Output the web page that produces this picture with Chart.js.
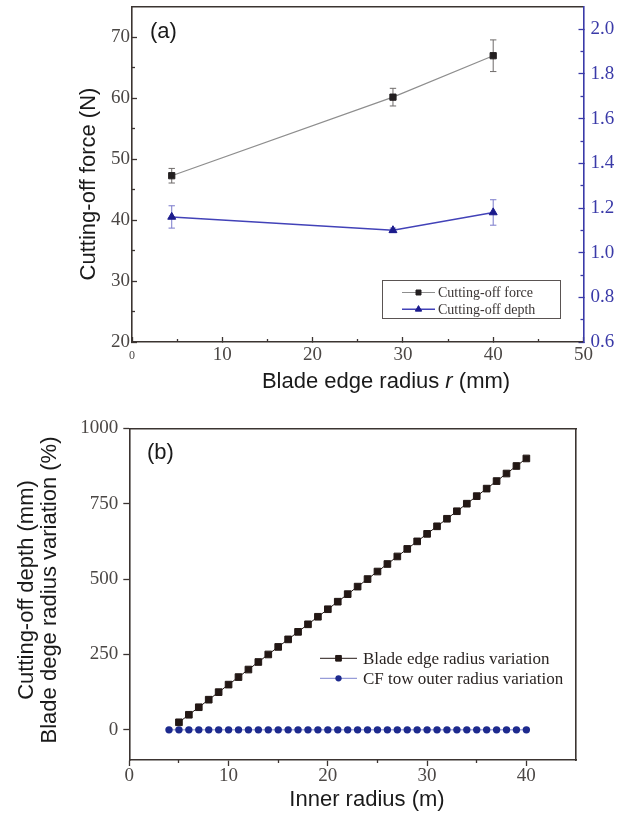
<!DOCTYPE html>
<html>
<head>
<meta charset="utf-8">
<title>Cutting-off force / depth and radius variation</title>
<script src="https://cdn.jsdelivr.net/npm/chart.js@4.4.1/dist/chart.umd.min.js"></script>
<style>
  html, body { margin: 0; padding: 0; background: #fff; }
  #page { position: relative; width: 631px; height: 814px; overflow: hidden; }
  #chartA, #chartB { position: absolute; left: 0; }
  #chartA { top: 0; }
  #chartB { top: 400px; }
</style>
</head>
<body>
<div id="page">
  <canvas id="chartA" width="631" height="400"></canvas>
  <canvas id="chartB" width="631" height="414"></canvas>
</div>
<script>
// ---- (a) cutting-off force and depth vs. blade edge radius ----
const edgeRadius = [4.4, 28.9, 40];
const cutForce = [47.3, 60.2, 67.0];
const cutForceErr = [1.2, 1.45, 2.6];
const cutDepth = [1.16, 1.10, 1.18];
const cutDepthErr = [0.05, 0.01, 0.057];

const radiusTicks = [0, 10, 20, 30, 40, 50];
const radiusMinor = [5, 15, 25, 35, 45];
const forceTicks = [20, 30, 40, 50, 60, 70];
const forceMinor = [25, 35, 45, 55, 65];
const depthTicks = [0.6, 0.8, 1.0, 1.2, 1.4, 1.6, 1.8, 2.0];
const depthMinor = [0.7, 0.9, 1.1, 1.3, 1.5, 1.7, 1.9];

// ---- (b) radius variation vs. inner radius ----
const bladeRadius = [5, 6, 7, 8, 9, 10, 11, 12, 13, 14, 15, 16, 17, 18, 19, 20, 21, 22,
  23, 24, 25, 26, 27, 28, 29, 30, 31, 32, 33, 34, 35, 36, 37, 38, 39, 40];
const bladeVariation = [25, 50, 75, 100, 125, 150, 175, 200, 225, 250, 275, 300, 325, 350,
  375, 400, 425, 450, 475, 500, 525, 550, 575, 600, 625, 650, 675, 700, 725, 750, 775, 800,
  825, 850, 875, 900];
const towRadius = [4, 5, 6, 7, 8, 9, 10, 11, 12, 13, 14, 15, 16, 17, 18, 19, 20, 21, 22,
  23, 24, 25, 26, 27, 28, 29, 30, 31, 32, 33, 34, 35, 36, 37, 38, 39, 40];
const towVariation = [0, 0, 0, 0, 0, 0, 0, 0, 0, 0, 0, 0, 0, 0, 0, 0, 0, 0, 0,
  0, 0, 0, 0, 0, 0, 0, 0, 0, 0, 0, 0, 0, 0, 0, 0, 0, 0];

const innerTicks = [0, 10, 20, 30, 40];
const innerMinor = [5, 15, 25, 35];
const variationTicks = [0, 250, 500, 750, 1000];

// ---- look ----
const SERIF = "'Liberation Serif', 'Times New Roman', serif";
const SANS = "'Liberation Sans', Arial, sans-serif";
const AXIS = '#3b3431';
const TICK_TEXT = '#4b4745';
const BLUE_AXIS = '#3a3aa8';

const fixedTicks = values => scale => { scale.ticks = values.map(v => ({ value: v })); };
// fixed box size; labels may overhang the plot edge, so no extra padding is asked for
const fixedSize = size => scale => {
  if (scale.isHorizontal()) scale.height = size; else scale.width = size;
  scale.paddingTop = scale.paddingBottom = scale.paddingLeft = scale.paddingRight = 0;
};

// one axis: labelled ticks, bare tick marks (minor) or just a frame line
function axis(o) {
  return {
    type: 'linear',
    position: o.position,
    min: o.min,
    max: o.max,
    weight: o.weight || 0,
    afterBuildTicks: fixedTicks(o.ticks || []),
    afterFit: fixedSize(o.size || 0),
    ticks: o.font ? {
      display: true,
      color: o.textColor || TICK_TEXT,
      font: o.font,
      padding: o.padding,
      maxRotation: 0,
      autoSkip: false,
      callback: o.format || (v => String(v))
    } : { display: false },
    grid: o.tickLength ? {
      display: true,
      drawOnChartArea: false,
      drawTicks: true,
      tickLength: o.tickLength,
      tickWidth: 1.3,
      color: o.color || AXIS
    } : { display: false },
    border: { display: !!o.line, color: o.color || AXIS, width: 1.6 }
  };
}

// free text: axis titles with mixed styles, panel tags
const panelText = {
  id: 'panelText',
  afterDraw(chart, args, opts) {
    const ctx = chart.ctx;
    (opts.items || []).forEach(item => {
      ctx.save();
      ctx.translate(item.x, item.y);
      if (item.rotate) ctx.rotate(item.rotate);
      ctx.fillStyle = item.color || '#1a1a1a';
      ctx.textBaseline = 'middle';
      ctx.textAlign = 'left';
      const parts = item.parts.map(p => (typeof p === 'string' ? { text: p, style: '' } : p));
      const fontOf = p => `${p.style || ''} ${item.size}px ${item.family}`;
      let total = 0;
      parts.forEach(p => { ctx.font = fontOf(p); total += ctx.measureText(p.text).width; });
      let x = item.align === 'left' ? 0 : -total / 2;
      parts.forEach(p => {
        ctx.font = fontOf(p);
        ctx.fillText(p.text, x, 0);
        x += ctx.measureText(p.text).width;
      });
      ctx.restore();
    });
  }
};

// legend placed inside the plot, markers taken from the datasets
const insetLegend = {
  id: 'insetLegend',
  afterDraw(chart, args, opts) {
    if (!opts.entries) return;
    const ctx = chart.ctx;
    ctx.save();
    if (opts.box) {
      ctx.strokeStyle = opts.box.color;
      ctx.lineWidth = 1;
      ctx.strokeRect(opts.box.x, opts.box.y, opts.box.w, opts.box.h);
    }
    ctx.font = `${opts.size}px ${opts.family}`;
    ctx.textBaseline = 'middle';
    ctx.textAlign = 'left';
    opts.entries.forEach((dsIndex, row) => {
      const ds = chart.data.datasets[dsIndex];
      const y = opts.top + row * opts.rowGap;
      ctx.strokeStyle = ds.borderColor;
      ctx.lineWidth = ds.borderWidth;
      ctx.beginPath();
      ctx.moveTo(opts.lineFrom, y);
      ctx.lineTo(opts.lineTo, y);
      ctx.stroke();
      ctx.fillStyle = ds.pointBackgroundColor;
      ctx.strokeStyle = ds.pointBorderColor;
      ctx.lineWidth = ds.pointBorderWidth;
      Chart.helpers.drawPoint(ctx, {
        pointStyle: ds.pointStyle,
        rotation: 0,
        radius: ds.pointRadius * opts.markerScale,
        borderWidth: ds.pointBorderWidth
      }, (opts.lineFrom + opts.lineTo) / 2, y);
      ctx.fillStyle = opts.color;
      ctx.fillText(ds.label, opts.textX, y + 1);
    });
    ctx.restore();
  }
};

const points = (xs, ys) => xs.map((x, i) => ({ x, y: ys[i] }));

// vertical error bar with caps, one dataset per point
const errorBar = (x, y, e, yAxisID, color) => ({
  label: '',
  data: [{ x, y: y - e }, { x, y: y + e }],
  yAxisID,
  showLine: true,
  borderColor: color,
  borderWidth: 1,
  pointStyle: 'line',
  pointRadius: 3.2,
  pointBorderColor: color,
  pointBorderWidth: 1,
  order: 2
});

const common = {
  responsive: false,
  animation: false,
  events: [],
  plugins: { legend: { display: false }, tooltip: { enabled: false } }
};

// ======================= panel (a) =======================
const forceColor = '#8e8e8e';
const depthColor = '#4242b8';

new Chart(document.getElementById('chartA'), {
  type: 'scatter',
  data: {
    datasets: [
      {
        label: 'Cutting-off force',
        data: points(edgeRadius, cutForce),
        yAxisID: 'y',
        showLine: true,
        borderColor: forceColor,
        borderWidth: 1.2,
        pointStyle: 'rect',
        pointRadius: 4.4,
        pointBackgroundColor: '#231f20',
        pointBorderColor: '#231f20',
        pointBorderWidth: 1,
        order: 1
      },
      {
        label: 'Cutting-off depth',
        data: points(edgeRadius, cutDepth),
        yAxisID: 'y1',
        showLine: true,
        borderColor: depthColor,
        borderWidth: 1.5,
        pointStyle: 'triangle',
        pointRadius: 4.6,
        pointBackgroundColor: '#1b1b8c',
        pointBorderColor: '#1b1b8c',
        pointBorderWidth: 1,
        order: 1
      },
      ...edgeRadius.map((x, i) => errorBar(x, cutForce[i], cutForceErr[i], 'y', '#6f6b6a')),
      ...edgeRadius.map((x, i) => errorBar(x, cutDepth[i], cutDepthErr[i], 'y1', '#7a7acb'))
    ]
  },
  options: {
    ...common,
    layout: { padding: { top: 7, left: 0, right: 0, bottom: 0 } },
    scales: {
      x: axis({
        position: 'bottom', min: 0, max: 50, weight: 1, size: 58, line: true,
        ticks: radiusTicks, tickLength: -5, padding: 9,
        font: c => (c.tick && c.tick.value === 0
          ? { family: SERIF, size: 12, lineHeight: 1.7 }
          : { family: SERIF, size: 19, lineHeight: 1 })
      }),
      xMinor: axis({ position: 'bottom', min: 0, max: 50, ticks: radiusMinor, tickLength: -3 }),
      xTop: axis({ position: 'top', min: 0, max: 50, line: true }),
      y: axis({
        position: 'left', min: 20, max: 75, weight: 1, size: 132, line: true,
        ticks: forceTicks, tickLength: -5, padding: 7,
        font: { family: SERIF, size: 19 }
      }),
      yMinor: axis({ position: 'left', min: 20, max: 75, ticks: forceMinor, tickLength: -3 }),
      y1: axis({
        position: 'right', min: 0.6, max: 2.1, weight: 1, size: 47.5, line: true,
        ticks: depthTicks, tickLength: -5, padding: 12, color: BLUE_AXIS, textColor: BLUE_AXIS,
        font: { family: SERIF, size: 19 },
        format: v => v.toFixed(1)
      }),
      y1Minor: axis({
        position: 'right', min: 0.6, max: 2.1, ticks: depthMinor, tickLength: -3, color: BLUE_AXIS
      })
    },
    plugins: {
      ...common.plugins,
      panelText: {
        items: [
          { parts: ['(a)'], x: 150, y: 32, size: 22, family: SANS, align: 'left' },
          { parts: ['Cutting-off force (N)'], x: 89, y: 184, rotate: -Math.PI / 2, size: 22, family: SANS },
          { parts: ['Blade edge radius ', { text: 'r', style: 'italic' }, ' (mm)'], x: 386, y: 382, size: 22, family: SANS }
        ]
      },
      insetLegend: {
        entries: [0, 1],
        box: { x: 382.5, y: 280.5, w: 178, h: 38, color: '#5a5452' },
        top: 292.5, rowGap: 16.8, lineFrom: 402, lineTo: 435, textX: 438,
        markerScale: 0.8, size: 14, family: SERIF, color: '#3a3433'
      }
    }
  },
  plugins: [panelText, insetLegend]
});

// ======================= panel (b) =======================
new Chart(document.getElementById('chartB'), {
  type: 'scatter',
  data: {
    datasets: [
      {
        label: 'Blade edge radius variation',
        data: points(bladeRadius, bladeVariation),
        showLine: true,
        borderColor: '#231815',
        borderWidth: 1,
        pointStyle: 'rect',
        pointRadius: 4.7,
        pointBackgroundColor: '#231815',
        pointBorderColor: '#231815',
        pointBorderWidth: 1
      },
      {
        label: 'CF tow outer radius variation',
        data: points(towRadius, towVariation),
        showLine: true,
        borderColor: '#7d84cf',
        borderWidth: 1,
        pointStyle: 'circle',
        pointRadius: 3.7,
        pointBackgroundColor: '#1d2a8e',
        pointBorderColor: '#1d2a8e',
        pointBorderWidth: 0
      }
    ]
  },
  options: {
    ...common,
    layout: { padding: { top: 28.3, left: 0, right: 0, bottom: 0 } },
    scales: {
      x: axis({
        position: 'bottom', min: 0, max: 45, weight: 1, size: 54, line: true,
        ticks: innerTicks, tickLength: 6, padding: 1,
        font: { family: SERIF, size: 19, lineHeight: 1 }
      }),
      xMinor: axis({ position: 'bottom', min: 0, max: 45, ticks: innerMinor, tickLength: 3 }),
      xTop: axis({ position: 'top', min: 0, max: 45, line: true }),
      y: axis({
        position: 'left', min: -100, max: 1000, weight: 1, size: 129.3, line: true,
        ticks: variationTicks, tickLength: 6, padding: 5,
        font: { family: SERIF, size: 19 }
      }),
      yRight: axis({ position: 'right', min: -100, max: 1000, size: 55, line: true })
    },
    plugins: {
      ...common.plugins,
      panelText: {
        items: [
          { parts: ['(b)'], x: 147, y: 53, size: 22, family: SANS, align: 'left' },
          { parts: ['Cutting-off depth (mm)'], x: 27, y: 190, rotate: -Math.PI / 2, size: 22, family: SANS },
          { parts: ['Blade dege radius variation (%)'], x: 50, y: 190, rotate: -Math.PI / 2, size: 22, family: SANS },
          { parts: ['Inner radius (m)'], x: 367, y: 400, size: 22, family: SANS }
        ]
      },
      insetLegend: {
        entries: [0, 1],
        top: 258.3, rowGap: 20, lineFrom: 320, lineTo: 357, textX: 363,
        markerScale: 0.85, size: 17, family: SERIF, color: '#2a2422'
      }
    }
  },
  plugins: [panelText, insetLegend]
});
</script>
</body>
</html>
